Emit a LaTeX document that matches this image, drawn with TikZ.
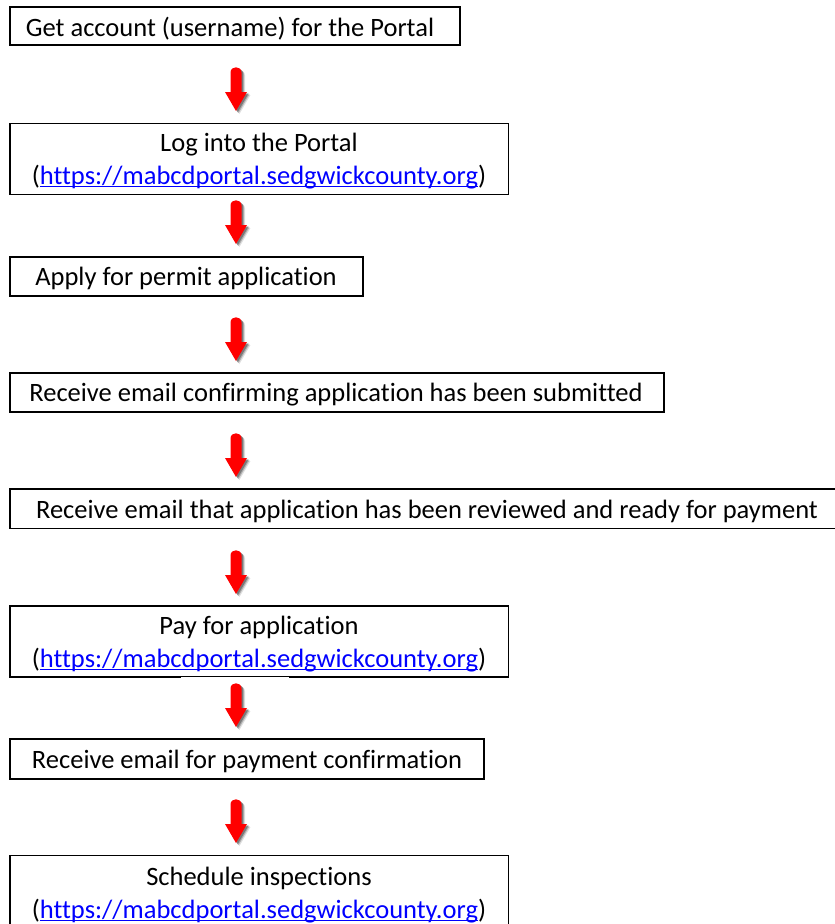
\documentclass[tikz,border=0pt]{standalone}
\usepackage{fontspec}
\setmainfont[Ligatures=NoCommon]{Carlito}
\definecolor{linkblue}{RGB}{0,0,255}
\definecolor{arrowred}{RGB}{255,0,0}
\newcommand\myul[1]{\setbox0\hbox{#1}\rlap{\rule[-3pt]{\wd0}{1.4pt}}\box0}
\newcommand\portalurl{(\textcolor{linkblue}{\myul{https://mabcdportal.sedgwickcounty.org}})}
\tikzset{
  stepbox/.style={draw=black, line width=1.8pt, rectangle, inner sep=0pt, outer sep=0pt},
  steptext/.style={anchor=base, inner sep=0pt, align=center, text=black,
    font=\fontsize{26.5}{32.5}\selectfont},
  redarrow/.pic={
    \foreach \dx/\dy/\op in {3.5/3/0.12, 2.5/2.2/0.22, 1.6/1.4/0.3}{
      \fill[black, opacity=\op, shift={(\dx,\dy)}]
        (-5.5,25) -- (-5.5,5.5) .. controls (-5.5,-1.5) and (5.5,-1.5) .. (5.5,5.5)
        -- (5.5,25) -- (11,25) -- (0,44) -- (-11,25) -- cycle;
    }
    \fill[arrowred]
      (-5.5,25) -- (-5.5,5.5) .. controls (-5.5,-1.5) and (5.5,-1.5) .. (5.5,5.5)
      -- (5.5,25) -- (11,25) -- (0,44) -- (-11,25) -- cycle;
  }
}
\begin{document}
\begin{tikzpicture}[x=1pt, y=-1pt]
\useasboundingbox (0,0) rectangle (835,924);
\clip (0,0) rectangle (835,924);
\fill[white] (0,0) rectangle (835,924);

% boxes
\node[stepbox, minimum width=450.6pt, minimum height=38pt] (b1) at (235,26) {};
\node[stepbox, minimum width=498.8pt, minimum height=71pt] (b2) at (259.1,159) {};
\node[stepbox, minimum width=353.3pt, minimum height=39pt] (b3) at (186.35,276.5) {};
\node[stepbox, minimum width=654.3pt, minimum height=39pt] (b4) at (336.85,392.5) {};
\node[stepbox, minimum width=840.3pt, minimum height=39.5pt] (b5) at (429.85,508.75) {};
\node[stepbox, minimum width=498.8pt, minimum height=71pt] (b6) at (259.1,641.5) {};
\node[stepbox, minimum width=474.3pt, minimum height=40pt] (b7) at (246.85,759) {};
\node[stepbox, minimum width=498.8pt, minimum height=79.5pt] (b8) at (259.1,895.25) {};

% texts (base anchor = baseline of the last line)
\node[steptext] (t1) at (230,36.5) {Get account (username) for the Portal};
\node[steptext] (t2) at (259,184) {Log into the Portal\\\portalurl};
\node[steptext] (t3) at (186,285) {Apply for permit application};
\node[steptext] (t4) at (336,401.7) {Receive email confirming application has been submitted};
\node[steptext] (t5) at (427,518) {Receive email that application has been reviewed and ready for payment};
\node[steptext] (t6) at (259,667) {Pay for application\\\portalurl};
\node[steptext] (t7) at (247,768.3) {Receive email for payment confirmation};
\node[steptext] (t8) at (259,918) {Schedule inspections\\\portalurl};

% white patches of the arrow pictures over the box borders
\fill[white] (181,194.6) rectangle (289,196.5);
\fill[white] (181,677.1) rectangle (289,679);

% arrows
\coordinate (a1) at (236,67);
\coordinate (a2) at (236,200);
\coordinate (a3) at (236,317);
\coordinate (a4) at (236,433);
\coordinate (a5) at (236,550);
\coordinate (a6) at (236,683);
\coordinate (a7) at (236,799);
\foreach \a in {a1,a2,a3,a4,a5,a6,a7}{
  \pic at (\a) {redarrow};
}
\end{tikzpicture}
\end{document}
